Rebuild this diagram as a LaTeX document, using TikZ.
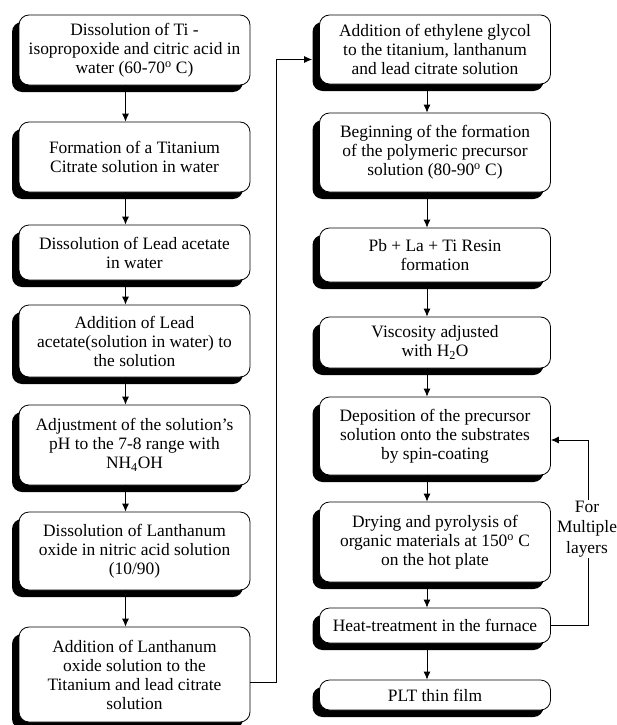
\documentclass[tikz,border=0pt]{standalone}
\usepackage{fontspec}
\setmainfont{Liberation Serif}
\usetikzlibrary{arrows.meta,shadows}

\begin{document}
\begin{tikzpicture}[x=1pt,y=-1pt]
\tikzset{stepbox/.style={draw,fill=white,rounded corners=10pt,line width=0.8pt,align=center,minimum width=231pt,inner sep=0pt,font=\fontsize{17.4}{19}\selectfont,drop shadow={shadow xshift=-7pt,shadow yshift=-7pt,opacity=1,fill=black}},
flow/.style={line width=0.8pt,-{Latex[length=8pt,width=7pt]}},
sidenote/.style={fill=white,align=center,inner sep=1pt,font=\fontsize{17.4}{20.5}\selectfont}}
\useasboundingbox (0,0) rectangle (617,725);
% left column
\node[stepbox,minimum height=70pt] (l1) at (134.5,50) {Dissolution of Ti -\\isopropoxide and citric acid in\\water (60-70\textsuperscript{o} C)};
\node[stepbox,minimum height=70pt] (l2) at (134.5,157) {Formation of a Titanium\\Citrate solution in water};
\node[stepbox,minimum height=55pt] (l3) at (134.5,252.5) {Dissolution of Lead acetate\\in water};
\node[stepbox,minimum height=72pt] (l4) at (134.5,341) {Addition of Lead\\acetate(solution in water) to\\the solution};
\node[stepbox,minimum height=80pt] (l5) at (134.5,445) {Adjustment of the solution’s\\pH to the 7-8 range with\\NH\textsubscript{4}OH};
\node[stepbox,minimum height=78pt] (l6) at (134.5,551) {Dissolution of Lanthanum\\oxide in nitric acid solution\\(10/90)};
\node[stepbox,minimum height=95pt] (l7) at (134.5,674.5) {Addition of Lanthanum\\oxide solution to the\\Titanium and lead citrate\\solution};
% right column
\node[stepbox,minimum height=69pt] (r1) at (435,49.5) {Addition of ethylene glycol\\to the titanium, lanthanum\\and lead citrate solution};
\node[stepbox,minimum height=79pt] (r2) at (435,152.5) {Beginning of the formation\\of the polymeric precursor\\solution (80-90\textsuperscript{o} C)};
\node[stepbox,minimum height=54pt] (r3) at (435,255) {Pb + La + Ti Resin\\formation};
\node[stepbox,minimum height=51pt] (r4) at (435,342.5) {Viscosity adjusted\\with H\textsubscript{2}O};
\node[stepbox,minimum height=78pt] (r5) at (435,436) {Deposition of the precursor\\solution onto the substrates\\by spin-coating};
\node[stepbox,minimum height=80pt] (r6) at (435,542) {Drying and pyrolysis of\\organic materials at 150\textsuperscript{o} C\\on the hot plate};
\node[stepbox,minimum height=35pt] (r7) at (435,625.5) {Heat-treatment in the furnace};
\node[stepbox,minimum height=30pt] (r8) at (435,695) {PLT thin film};

\draw[flow] ([xshift=-9pt]l1.south) -- ([xshift=-9pt]l2.north);
\draw[flow] ([xshift=-9pt]l2.south) -- ([xshift=-9pt]l3.north);
\draw[flow] ([xshift=-9pt]l3.south) -- ([xshift=-9pt]l4.north);
\draw[flow] ([xshift=-9pt]l4.south) -- ([xshift=-9pt]l5.north);
\draw[flow] ([xshift=-9pt]l5.south) -- ([xshift=-9pt]l6.north);
\draw[flow] ([xshift=-9pt]l6.south) -- ([xshift=-9pt]l7.north);
\draw[flow] ([yshift=-7.5pt]l7.east) -- ++(26,0) |- ([xshift=-7pt,yshift=-10pt]r1.west);

\draw[flow] ([xshift=-8pt]r1.south) -- ([xshift=-8pt]r2.north);
\draw[flow] ([xshift=-8pt]r2.south) -- ([xshift=-8pt]r3.north);
\draw[flow] ([xshift=-8pt]r3.south) -- ([xshift=-8pt]r4.north);
\draw[flow] ([xshift=-8pt]r4.south) -- ([xshift=-8pt]r5.north);
\draw[flow] ([xshift=-8pt]r5.south) -- ([xshift=-8pt]r6.north);
\draw[flow] ([xshift=-8pt]r6.south) -- ([xshift=-8pt]r7.north);
\draw[flow] ([xshift=-8pt]r7.south) -- ([xshift=-8pt]r8.north);
\draw[flow] (r7.east) -- ++(37,0) |- ([yshift=-4pt]r5.east);
\node[sidenote] (loop) at (587,529) {For\\Multiple\\layers};
\end{tikzpicture}
\end{document}
